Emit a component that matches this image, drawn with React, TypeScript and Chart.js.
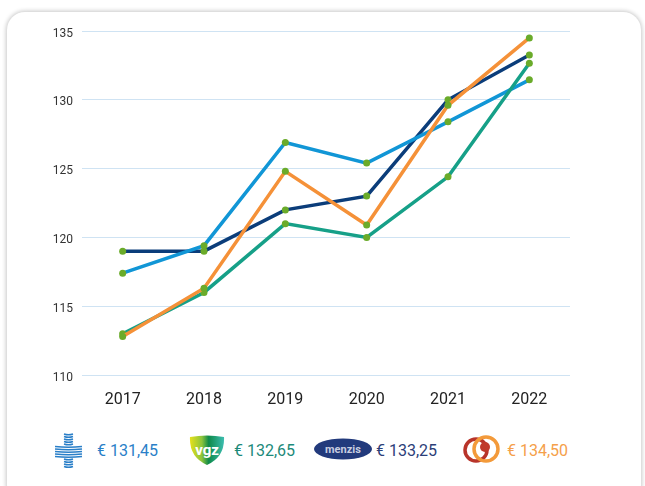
import React, { useEffect, useRef } from "react";
import { Chart, registerables } from "chart.js";

Chart.register(...registerables);

const years = ["2017", "2018", "2019", "2020", "2021", "2022"];
const czValues = [112.8, 116.3, 124.8, 120.9, 129.6, 134.5];
const vgzValues = [113.0, 116.0, 121.0, 120.0, 124.4, 132.65];
const zilverenValues = [117.4, 119.4, 126.9, 125.4, 128.4, 131.45];
const menzisValues = [119.0, 119.0, 122.0, 123.0, 130.0, 133.25];
const yMin = 110;
const yMax = 135;
const yStep = 5;
const legendLabels = ["€ 131,45", "€ 132,65", "€ 133,25", "€ 134,50"];

const FONT = "Roboto, 'Noto Sans', sans-serif";
const POINT = "#6aab2a";

function CrossLogo() {
  const lines = [];
  for (let i = 0; i < 14; i++) {
    const y = 1 + i * 2.5;
    const inMid = y > 11 && y < 24;
    const x1 = inMid ? 0 : 9;
    const x2 = inMid ? 27 : 18;
    lines.push(
      <path
        key={i}
        d={`M${x1} ${y} Q${(x1 + x2) / 2} ${y + 1.6} ${x2} ${y}`}
        stroke="#2a7fc8"
        strokeWidth={1.5}
        fill="none"
      />
    );
  }
  return (
    <svg width={28} height={36} viewBox="0 0 28 36">
      {lines}
    </svg>
  );
}

function VgzLogo() {
  return (
    <svg width={38} height={31} viewBox="0 0 38 31">
      <defs>
        <linearGradient id="vg" x1="0" y1="0" x2="1" y2="0">
          <stop offset="0" stopColor="#e6e01a" />
          <stop offset="0.35" stopColor="#8cc43c" />
          <stop offset="0.55" stopColor="#0f8a4a" />
          <stop offset="1" stopColor="#3cbdb0" />
        </linearGradient>
      </defs>
      <path d="M2 2 Q19 -1 36 2 Q37 22 19 30 Q1 22 2 2 Z" fill="url(#vg)" />
      <text x="19" y="20" textAnchor="middle" fill="#ffffff" fontFamily={FONT} fontWeight="bold" fontSize="15">
        vgz
      </text>
    </svg>
  );
}

function MenzisLogo() {
  return (
    <svg width={58} height={22} viewBox="0 0 58 22">
      <ellipse cx="29" cy="11" rx="29" ry="10.5" fill="#223a7c" />
      <text x="29" y="15" textAnchor="middle" fill="#c8cde0" fontFamily={FONT} fontWeight="bold" fontSize="11">
        menzis
      </text>
    </svg>
  );
}

function CzLogo() {
  return (
    <svg width={40} height={34} viewBox="0 0 40 34">
      <circle cx="14" cy="17" r="11" stroke="#b8342a" strokeWidth={3.5} fill="none" />
      <circle cx="24" cy="16" r="12" stroke="#f39a3a" strokeWidth={3.5} fill="none" />
      <circle cx="23" cy="14" r="5" fill="#c0392b" />
    </svg>
  );
}

export default function App() {
  const ref = useRef<HTMLCanvasElement | null>(null);

  useEffect(() => {
    if (!ref.current) return;
    const mk = (label: string, data: number[], color: string) => ({
      label,
      data,
      borderColor: color,
      backgroundColor: color,
      borderWidth: 3.5,
      pointRadius: 3.5,
      pointBackgroundColor: POINT,
      pointBorderWidth: 0,
      pointHoverRadius: 3.5,
      tension: 0,
      fill: false,
    });
    const chart = new Chart(ref.current, {
      type: "line",
      data: {
        labels: years,
        datasets: [
          mk("CZ", czValues, "#f59138"),
          mk("VGZ", vgzValues, "#16a088"),
          mk("Zilveren Kruis", zilverenValues, "#1196d6"),
          mk("Menzis", menzisValues, "#0b3d7a"),
        ],
      },
      options: {
        responsive: false,
        animation: false,
        layout: { padding: { left: 0, right: 75, top: 31, bottom: 0 } },
        plugins: { legend: { display: false }, tooltip: { enabled: false } },
        scales: {
          x: {
            offset: true,
            grid: { display: false, drawTicks: false },
            border: { display: false },
            ticks: { color: "#222", font: { family: FONT, size: 16 }, padding: 15 },
            afterFit: (s: any) => {
              s.height = 45;
            },
          },
          y: {
            min: yMin,
            max: yMax,
            grid: { color: "#cfe3f3", lineWidth: 1, drawTicks: false },
            border: { display: false },
            ticks: {
              stepSize: yStep,
              color: "#333",
              font: { family: FONT, size: 12 },
              padding: 9,
              labelOffset: 2.5,
            },
            afterFit: (s: any) => {
              s.width = 82;
            },
          },
        },
      },
    });
    return () => chart.destroy();
  }, []);

  const textStyle = (left: number, color: string): React.CSSProperties => ({
    position: "absolute",
    left,
    top: 443,
    fontFamily: FONT,
    fontSize: 16,
    lineHeight: "16px",
    color,
    whiteSpace: "nowrap",
  });

  return (
    <div style={{ position: "absolute", left: 0, top: 0, width: 645, height: 486, overflow: "hidden", background: "#fff" }}>
      <div
        style={{
          position: "absolute",
          left: 7,
          top: 12,
          width: 634,
          height: 490,
          borderRadius: 18,
          background: "#fff",
          boxShadow: "0 0 4px 1px rgba(0,0,0,0.22)",
        }}
      />
      <canvas ref={ref} width={645} height={420} style={{ position: "absolute", left: 0, top: 0 }} />
      <div style={{ position: "absolute", left: 55, top: 433 }}>
        <CrossLogo />
      </div>
      <span style={textStyle(97, "#2a7fc8")}>{legendLabels[0]}</span>
      <div style={{ position: "absolute", left: 188, top: 435 }}>
        <VgzLogo />
      </div>
      <span style={textStyle(234, "#1c8a7a")}>{legendLabels[1]}</span>
      <div style={{ position: "absolute", left: 314, top: 438 }}>
        <MenzisLogo />
      </div>
      <span style={textStyle(376, "#2c3e78")}>{legendLabels[2]}</span>
      <div style={{ position: "absolute", left: 462, top: 433 }}>
        <CzLogo />
      </div>
      <span style={textStyle(507, "#f5a04a")}>{legendLabels[3]}</span>
    </div>
  );
}
